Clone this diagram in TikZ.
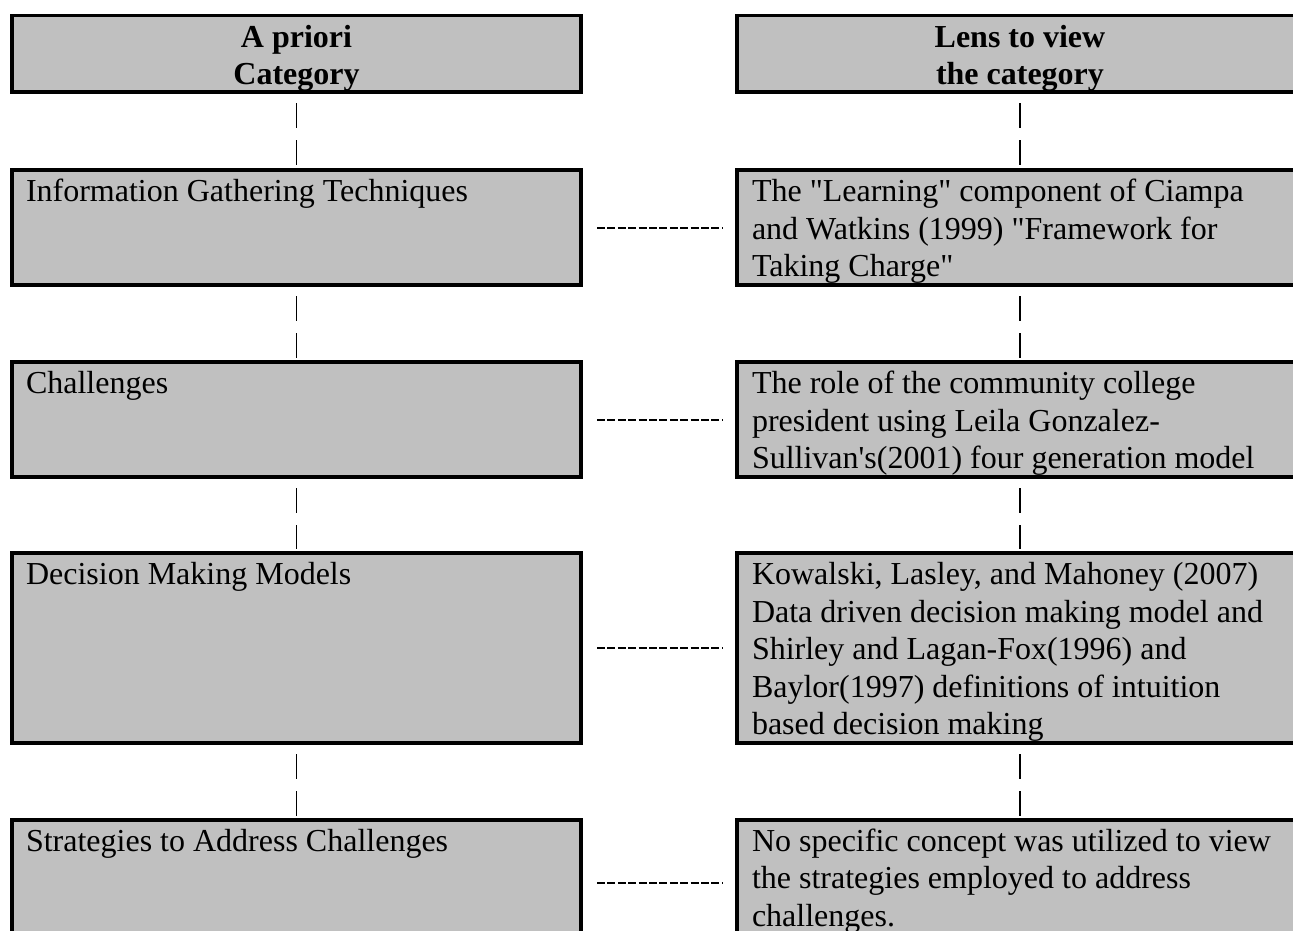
\documentclass[tikz,border=0pt]{standalone}
\usepackage{fontspec}
\setmainfont{Liberation Serif}[Ligatures=TeXOff]
\definecolor{boxgray}{RGB}{192,192,192}
\begin{document}
\begin{tikzpicture}[x=1pt,y=-1pt,
  box/.style={draw=black, line width=3.6pt, fill=boxgray, rectangle, inner sep=0pt, outer sep=0pt},
  lbox/.style={box, minimum width=569pt},
  rbox/.style={box, minimum width=566pt},
  txt/.style={inner sep=0pt, outer sep=0pt, anchor=base west, font=\fontsize{32}{37.5}\selectfont},
  head/.style={inner sep=0pt, outer sep=0pt, anchor=base, font=\fontsize{32}{37.5}\selectfont\bfseries},
  vlink/.style={draw=black, line width=1.3pt, dash pattern=on 25pt off 12pt, shorten <=11pt, shorten >=4pt},
  hlink/.style={draw=black, line width=2pt, dash pattern=on 8pt off 2.4pt, shorten <=16pt, shorten >=15pt}
]
\useasboundingbox (0,0) rectangle (1293,930);
\clip (0,0) rectangle (1293,930);

% boxes
\node[lbox, minimum height=76.5pt] (LH) at (296.5,53.75) {};
\node[rbox, minimum height=76.5pt] (RH) at (1020,53.75) {};
\node[lbox, minimum height=115pt] (L1) at (296.5,227.5) {};
\node[rbox, minimum height=115pt] (R1) at (1020,227.5) {};
\node[lbox, minimum height=115pt] (L2) at (296.5,419.5) {};
\node[rbox, minimum height=115pt] (R2) at (1020,419.5) {};
\node[lbox, minimum height=190pt] (L3) at (296.5,648) {};
\node[rbox, minimum height=190pt] (R3) at (1020,648) {};
\node[lbox, minimum height=125pt] (L4) at (296.5,882.5) {};
\node[rbox, minimum height=125pt] (R4) at (1020,882.5) {};

% texts
\node[head] (LHt) at (296.5,47) {\parbox[t]{500pt}{\centering A priori\\Category}};
\node[head] (RHt) at (1020,47) {\parbox[t]{500pt}{\centering Lens to view\\the category}};
\node[txt] (L1t) at (26,201.5) {\parbox[t]{540pt}{Information Gathering Techniques}};
\node[txt] (R1t) at (752,201.5) {\parbox[t]{545pt}{The "Learning" component of Ciampa\\and Watkins (1999) "Framework for\\Taking Charge"}};
\node[txt] (L2t) at (26,393.5) {\parbox[t]{540pt}{Challenges}};
\node[txt] (R2t) at (752,393.5) {\parbox[t]{545pt}{The role of the community college\\president using Leila Gonzalez-\\Sullivan's(2001) four generation model}};
\node[txt] (L3t) at (26,584.5) {\parbox[t]{540pt}{Decision Making Models}};
\node[txt] (R3t) at (752,584.5) {\parbox[t]{545pt}{Kowalski, Lasley, and Mahoney (2007)\\Data driven decision making model and\\Shirley and Lagan-Fox(1996) and\\Baylor(1997) definitions of intuition\\based decision making}};
\node[txt] (L4t) at (26,851) {\parbox[t]{540pt}{Strategies to Address Challenges}};
\node[txt] (R4t) at (752,851) {\parbox[t]{545pt}{No specific concept was utilized to view\\the strategies employed to address\\challenges.}};

% vertical connectors
\draw[vlink] (LH.south) -- (L1.north);
\draw[vlink] (L1.south) -- (L2.north);
\draw[vlink] (L2.south) -- (L3.north);
\draw[vlink] (L3.south) -- (L4.north);
\draw[vlink] (RH.south) -- (R1.north);
\draw[vlink] (R1.south) -- (R2.north);
\draw[vlink] (R2.south) -- (R3.north);
\draw[vlink] (R3.south) -- (R4.north);

% horizontal connectors
\draw[hlink] (L1.east) -- (R1.west);
\draw[hlink] (L2.east) -- (R2.west);
\draw[hlink] (L3.east) -- (R3.west);
\draw[hlink] (L4.east) -- (R4.west);
\end{tikzpicture}
\end{document}
